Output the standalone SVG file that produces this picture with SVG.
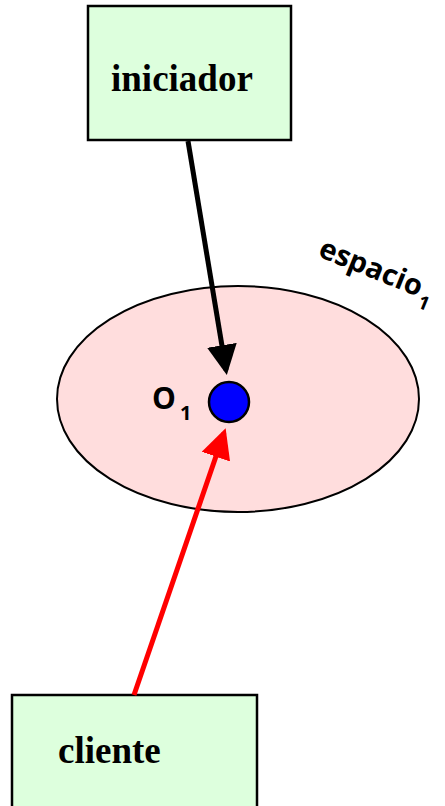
<svg xmlns="http://www.w3.org/2000/svg" width="445" height="806" viewBox="0 0 445 806">
<style>
.box{fill:#ddffdd;stroke:#000;stroke-width:2.5}
.lbl{font-family:"Liberation Serif",serif;font-weight:bold;font-size:37px;fill:#000}
.sans{font-family:"Open Sans","DejaVu Sans",sans-serif;font-weight:bold;fill:#000}
</style>
<defs>
<marker id="ahK" markerWidth="6" markerHeight="6" refX="5" refY="3" orient="auto" markerUnits="strokeWidth"><path d="M0,0 L6,3 L0,6 z" fill="#000"/></marker>
<marker id="ahR" markerWidth="6" markerHeight="6" refX="5" refY="3" orient="auto" markerUnits="strokeWidth"><path d="M0,0 L6,3 L0,6 z" fill="#ff0000"/></marker>
</defs>
<g id="espacio">
<ellipse cx="238" cy="399" rx="181" ry="113" fill="#ffdddd" stroke="#000" stroke-width="2"/>
<text class="sans" font-size="29" transform="translate(317,256) rotate(22)">espacio<tspan font-size="19" dx="2" dy="10">1</tspan></text>
</g>
<g id="o1">
<circle cx="229" cy="402" r="20" fill="#0000ff" stroke="#000" stroke-width="2.5"/>
<text class="sans" x="152" y="409" font-size="30">O<tspan font-size="20" dx="4" dy="11">1</tspan></text>
</g>
<g id="iniciador">
<rect class="box" x="88" y="6" width="203" height="134"/>
<text class="lbl" x="111" y="91">iniciador</text>
</g>
<g id="cliente">
<rect class="box" x="12" y="695" width="245" height="125"/>
<text class="lbl" x="58" y="763">cliente</text>
</g>
<g id="connectors">
<line x1="188" y1="141" x2="226" y2="370" stroke="#000" stroke-width="5" marker-end="url(#ahK)"/>
<line x1="134" y1="695" x2="224" y2="433" stroke="#ff0000" stroke-width="5" marker-end="url(#ahR)"/>
</g>
</svg>
